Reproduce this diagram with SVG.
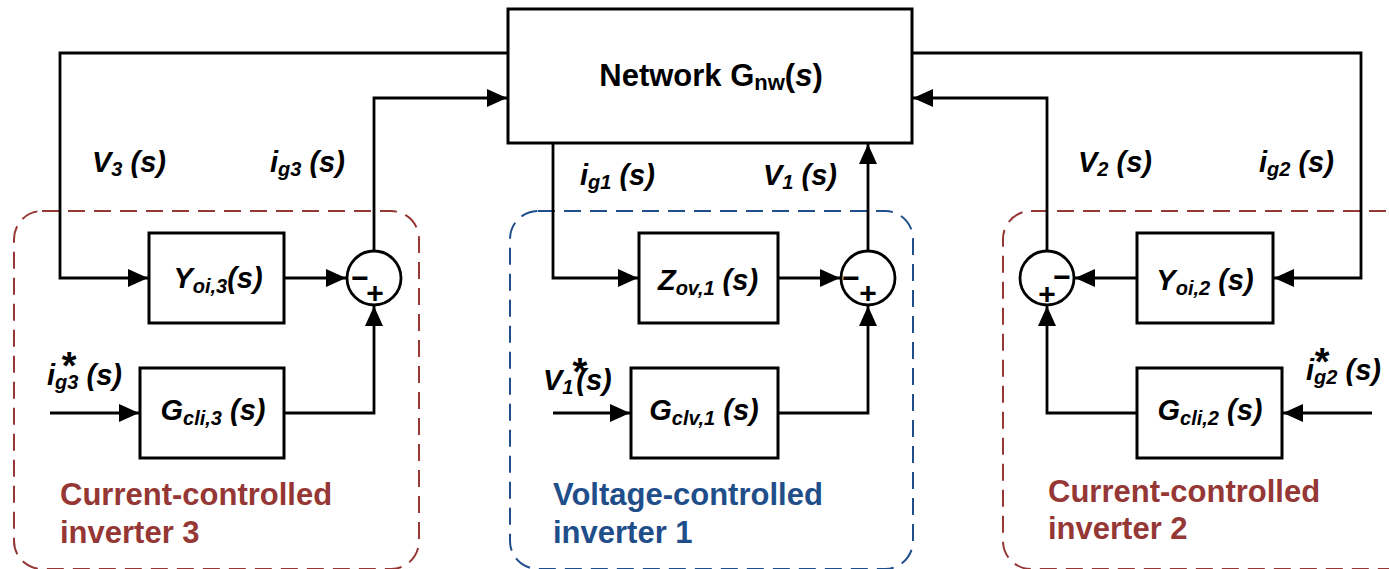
<svg xmlns="http://www.w3.org/2000/svg" width="1389" height="569" viewBox="0 0 1389 569">
<style>
.blk{fill:#fff;stroke:#000;stroke-width:3}
.ln{fill:none;stroke:#000;stroke-width:2.8}
.dr{fill:none;stroke:#953735;stroke-width:2;stroke-dasharray:17 9}
.db{fill:none;stroke:#1F4E8A;stroke-width:2;stroke-dasharray:17 9}
.lb{font-family:"Liberation Sans",Arial,sans-serif;font-weight:bold;font-style:italic;font-size:29px;fill:#000}
.nw{font-family:"Liberation Sans",Arial,sans-serif;font-weight:bold;font-size:31px;fill:#000}
.ast{font-size:38px;font-style:normal}
.sg{font-family:"Liberation Sans",Arial,sans-serif;font-weight:bold;font-size:30px;fill:#000;text-anchor:middle}
.cr{font-family:"Liberation Sans",Arial,sans-serif;font-weight:bold;font-size:31px;fill:#953735}
.cb{font-family:"Liberation Sans",Arial,sans-serif;font-weight:bold;font-size:31px;fill:#1F4E8A}
.mid{text-anchor:middle}
</style>
<defs>
<marker id="ah" markerUnits="userSpaceOnUse" markerWidth="22" markerHeight="20" refX="20" refY="9" orient="auto">
<path d="M0,0 L20,9 L0,18 Z" fill="#000"/>
</marker>
</defs>

<g id="frames">
<rect class="dr" x="14" y="211" width="405" height="358" rx="28"/>
<rect class="db" x="510" y="211" width="403" height="358" rx="28"/>
<rect class="dr" x="1003" y="211" width="420" height="358" rx="28"/>
<text class="cr" x="60" y="505">Current-controlled</text>
<text class="cr" x="60" y="543">inverter 3</text>
<text class="cb" x="553" y="505">Voltage-controlled</text>
<text class="cb" x="553" y="543">inverter 1</text>
<text class="cr" x="1048" y="502">Current-controlled</text>
<text class="cr" x="1048" y="539">inverter 2</text>
</g>

<g id="connectors">
<path class="ln" d="M508,53 H60 V278 H148" marker-end="url(#ah)"/>
<path class="ln" d="M284,278 H346" marker-end="url(#ah)"/>
<path class="ln" d="M284,413 H374 V306" marker-end="url(#ah)"/>
<path class="ln" d="M50,413 H139" marker-end="url(#ah)"/>
<path class="ln" d="M374,251 V98 H507" marker-end="url(#ah)"/>
<path class="ln" d="M553,143 V278 H638" marker-end="url(#ah)"/>
<path class="ln" d="M778,278 H840" marker-end="url(#ah)"/>
<path class="ln" d="M778,413 H868 V306" marker-end="url(#ah)"/>
<path class="ln" d="M553,413 H630" marker-end="url(#ah)"/>
<path class="ln" d="M868,251 V144" marker-end="url(#ah)"/>
<path class="ln" d="M912,53 H1361 V278 H1274" marker-end="url(#ah)"/>
<path class="ln" d="M1137,278 H1075" marker-end="url(#ah)"/>
<path class="ln" d="M1137,413 H1047 V306" marker-end="url(#ah)"/>
<path class="ln" d="M1372,413 H1283" marker-end="url(#ah)"/>
<path class="ln" d="M1047,251 V98 H913" marker-end="url(#ah)"/>
</g>

<g id="network">
<rect class="blk" x="508" y="9" width="404" height="134"/>
<text class="nw mid" x="711" y="86">Network G<tspan font-size="22" dy="4">nw</tspan><tspan dy="-4">(</tspan><tspan font-style="italic">s</tspan>)</text>
</g>

<g id="Yoi3">
<rect class="blk" x="149" y="233" width="135" height="90"/>
<text class="lb mid" x="218" y="288">Y<tspan font-size="20" dy="5">oi,3</tspan><tspan dy="-5">(s)</tspan></text>
</g>
<g id="Gcli3">
<rect class="blk" x="140" y="368" width="144" height="90"/>
<text class="lb mid" x="213" y="420">G<tspan font-size="20" dy="5">cli,3</tspan><tspan dy="-5"> (s)</tspan></text>
</g>
<g id="sum3">
<circle cx="374" cy="278" r="27" fill="#fff" stroke="#000" stroke-width="2.8"/>
<text class="sg" x="360" y="288">−</text>
<text class="sg" x="375" y="303">+</text>
</g>

<g id="Zov1">
<rect class="blk" x="639" y="233" width="139" height="90"/>
<text class="lb mid" x="708" y="290">Z<tspan font-size="20" dy="5">ov,1</tspan><tspan dy="-5"> (s)</tspan></text>
</g>
<g id="Gclv1">
<rect class="blk" x="631" y="368" width="147" height="90"/>
<text class="lb mid" x="704" y="420">G<tspan font-size="20" dy="5">clv,1</tspan><tspan dy="-5"> (s)</tspan></text>
</g>
<g id="sum1">
<circle cx="868" cy="278" r="27" fill="#fff" stroke="#000" stroke-width="2.8"/>
<text class="sg" x="851" y="288">−</text>
<text class="sg" x="868" y="303">+</text>
</g>

<g id="Yoi2">
<rect class="blk" x="1137" y="233" width="136" height="90"/>
<text class="lb mid" x="1205" y="290">Y<tspan font-size="20" dy="5">oi,2</tspan><tspan dy="-5"> (s)</tspan></text>
</g>
<g id="Gcli2">
<rect class="blk" x="1137" y="368" width="145" height="90"/>
<text class="lb mid" x="1210" y="420">G<tspan font-size="20" dy="5">cli,2</tspan><tspan dy="-5"> (s)</tspan></text>
</g>
<g id="sum2">
<circle cx="1047" cy="278" r="27" fill="#fff" stroke="#000" stroke-width="2.8"/>
<text class="sg" x="1062" y="287">−</text>
<text class="sg" x="1047" y="304">+</text>
</g>

<g id="labels">
<text class="lb" x="92" y="172">V<tspan font-size="20" dy="4">3</tspan><tspan dy="-4"> (s)</tspan></text>
<text class="lb" x="270" y="172">i<tspan font-size="20" dy="4">g3</tspan><tspan dy="-4"> (s)</tspan></text>
<text class="lb" x="580" y="185">i<tspan font-size="20" dy="4">g1</tspan><tspan dy="-4"> (s)</tspan></text>
<text class="lb" x="763" y="185">V<tspan font-size="20" dy="4">1</tspan><tspan dy="-4"> (s)</tspan></text>
<text class="lb" x="1078" y="172">V<tspan font-size="20" dy="4">2</tspan><tspan dy="-4"> (s)</tspan></text>
<text class="lb" x="1259" y="172">i<tspan font-size="20" dy="4">g2</tspan><tspan dy="-4"> (s)</tspan></text>
<text class="lb" x="47" y="385">i<tspan font-size="20" dy="4">g3</tspan><tspan class="ast" dx="-16.7" dy="-10">*</tspan><tspan dx="2" dy="6"> (s)</tspan></text>
<text class="lb" x="543" y="390">V<tspan font-size="20" dy="4">1</tspan><tspan class="ast" dx="-1" dy="-9">*</tspan><tspan dx="-11" dy="5">(s)</tspan></text>
<text class="lb" x="1306" y="380">i<tspan font-size="20" dy="4">g2</tspan><tspan class="ast" dx="-22.7" dy="-9">*</tspan><tspan dx="8" dy="5"> (s)</tspan></text>
</g>
</svg>
